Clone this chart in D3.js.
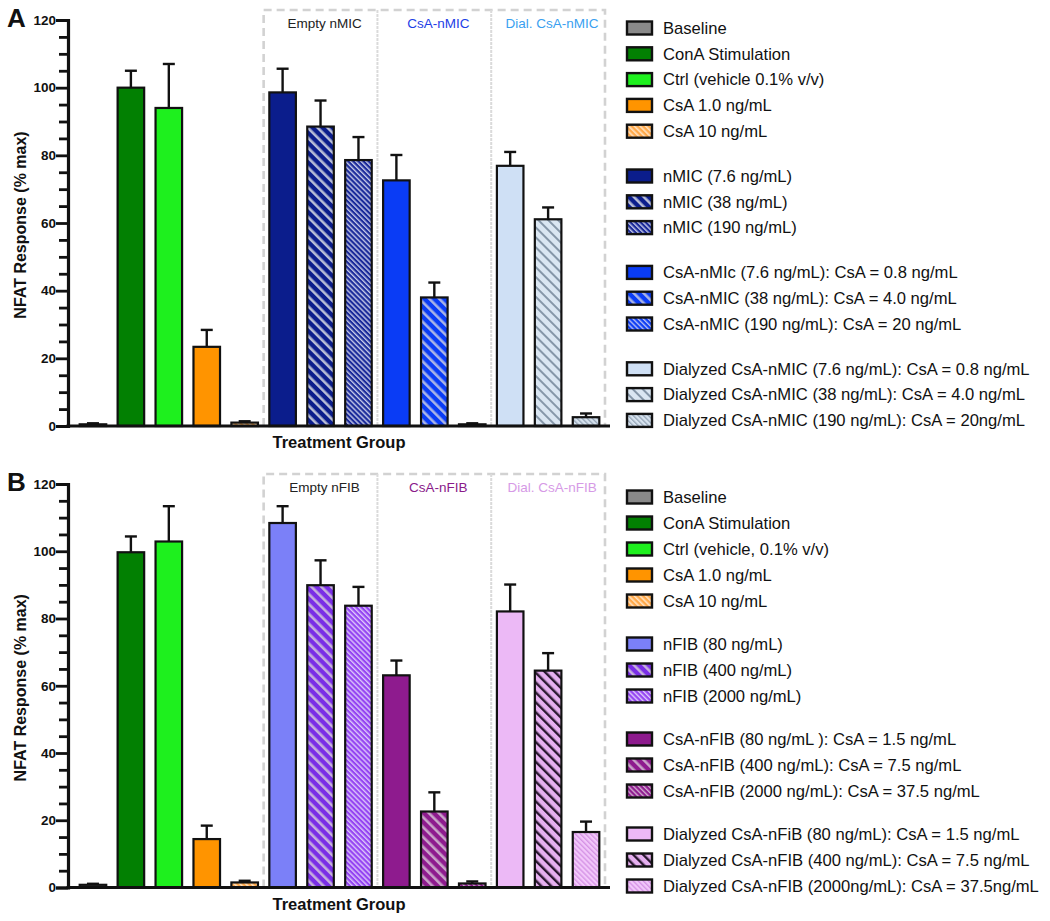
<!DOCTYPE html>
<html>
<head>
<meta charset="utf-8">
<script src="https://cdn.jsdelivr.net/npm/d3@7"></script>
<style>
  body { margin: 0; background: #fff; }
  text { font-family: "Liberation Sans", Arial, Helvetica, sans-serif; }
</style>
</head>
<body>
<div id="chart"></div>
<script>
// ---- data ----
var catsA = ["Baseline", "ConA Stimulation", "Ctrl (vehicle 0.1% v/v)", "CsA 1.0 ng/mL", "CsA 10 ng/mL",
  "nMIC (7.6 ng/mL)", "nMIC (38 ng/mL)", "nMIC (190 ng/mL)",
  "CsA-nMIc (7.6 ng/mL): CsA = 0.8 ng/mL", "CsA-nMIC (38 ng/mL): CsA = 4.0 ng/mL", "CsA-nMIC (190 ng/mL): CsA = 20 ng/mL",
  "Dialyzed CsA-nMIC (7.6 ng/mL): CsA = 0.8 ng/mL", "Dialyzed CsA-nMIC (38 ng/mL): CsA = 4.0 ng/mL", "Dialyzed CsA-nMIC (190 ng/mL): CsA = 20ng/mL"];
var valsA = [0.5, 100, 94, 23.4, 1.0, 98.6, 88.5, 78.6, 72.6, 38.0, 0.5, 76.9, 61.1, 2.6];
var errA  = [0.3, 5.0, 13.0, 5.0, 0.4, 7.0, 7.7, 6.8, 7.5, 4.4, 0.3, 4.1, 3.5, 1.1];

var catsB = ["Baseline", "ConA Stimulation", "Ctrl (vehicle, 0.1% v/v)", "CsA 1.0 ng/mL", "CsA 10 ng/mL",
  "nFIB (80 ng/mL)", "nFIB (400 ng/mL)", "nFIB (2000 ng/mL)",
  "CsA-nFIB (80 ng/mL ): CsA = 1.5 ng/mL", "CsA-nFIB (400 ng/mL): CsA = 7.5 ng/mL", "CsA-nFIB (2000 ng/mL): CsA = 37.5 ng/mL",
  "Dialyzed CsA-nFiB (80 ng/mL): CsA = 1.5 ng/mL", "Dialyzed CsA-nFIB (400 ng/mL): CsA = 7.5 ng/mL", "Dialyzed CsA-nFIB (2000ng/mL): CsA = 37.5ng/mL"];
var valsB = [0.8, 99.7, 102.9, 14.4, 1.5, 108.4, 89.9, 83.8, 63.1, 22.6, 1.2, 82.1, 64.5, 16.5];
var errB  = [0.3, 4.7, 10.5, 4.0, 0.5, 5.0, 7.4, 5.6, 4.4, 5.7, 0.6, 8.0, 5.2, 3.1];

var groupsA = ["Empty nMIC", "CsA-nMIC", "Dial. CsA-nMIC"];
var groupsB = ["Empty nFIB", "CsA-nFIB", "Dial. CsA-nFIB"];
var legendGroups = [5, 3, 3, 3];
var yTicks = [0, 20, 40, 60, 80, 100, 120];

// ---- styles ----
// plain colour or hatch: [base, stripe, period, stripeWidth]
var fillsA = ["#8a8a8a", "#028002", "#1ef01e", "#ff9400", ["#ffa94a", "#ffe2c2", 4, 1.6],
  "#0b1d8c", ["#0b1d8c", "#b8bdd6", 7, 2.6], ["#1a2a9a", "#c4c8e8", 3.6, 1.4],
  "#0a3cf5", ["#0a3cf5", "#aab4e6", 7, 2.6], ["#0a3cf5", "#b4bcf0", 3.6, 1.4],
  "#cfe0f5", ["#dae6f2", "#8596a8", 7, 2.0], ["#d6e2ee", "#8e9eb0", 3.6, 1.2]];
var fillsB = ["#8a8a8a", "#028002", "#1ef01e", "#ff9400", ["#ffa94a", "#ffe2c2", 4, 1.6],
  "#7b80f8", ["#7a2ee6", "#c6b0dc", 7, 2.6], ["#9444f2", "#dcc6fa", 3.6, 1.4],
  "#8e1b8e", ["#8e1b8e", "#c8a4c8", 7, 2.6], ["#8e1b8e", "#cfa8cf", 3.6, 1.4],
  "#ecb9f6", ["#e6b0f0", "#2a1830", 7, 2.4], ["#f2c8fa", "#d694e6", 3.6, 1.4]];
var groupColorsA = ["#222", "#1d3ee6", "#3a9ff0"];
var groupColorsB = ["#222", "#8a1a8a", "#d69ae6"];

var svg = d3.select("#chart").append("svg")
  .attr("width", 1050)
  .attr("height", 921);
var defs = svg.append("defs");

function fillFor(prefix, f, i) {
  if (typeof f === "string") return f;
  var id = prefix + "hatch" + i;
  var p = defs.append("pattern")
    .attr("id", id)
    .attr("patternUnits", "userSpaceOnUse")
    .attr("width", f[2])
    .attr("height", f[2])
    .attr("patternTransform", "rotate(-45)");
  p.append("rect").attr("width", f[2]).attr("height", f[2]).attr("fill", f[0]);
  p.append("rect").attr("x", 0).attr("y", 0).attr("width", f[3]).attr("height", f[2]).attr("fill", f[1]);
  return "url(#" + id + ")";
}

function drawPanel(opt) {
  var fills = opt.fills.map(function(f, i) { return fillFor(opt.letter, f, i); });
  var g = svg.append("g");

  var x = d3.scaleBand().domain(opt.cats).range([74, 605]).paddingInner(0.3).paddingOuter(0.15);
  var y = d3.scaleLinear().domain([0, 120]).range([opt.y0, opt.y1]);
  var step = x.step(), bw = x.bandwidth(), gap = step - bw;

  // dashed group box
  var left = x(opt.cats[5]) - gap / 2;
  var right = x(opt.cats[13]) + bw + gap / 2;
  var top = opt.y1 - 10;
  g.append("path")
    .attr("d", "M" + left + "," + opt.y0 + "V" + top + "H" + right + "V" + opt.y0)
    .attr("fill", "none").attr("stroke", "#d2d2d2").attr("stroke-width", 2.6)
    .attr("stroke-dasharray", "8,5");
  [8, 11].forEach(function(k) {
    var xx = x(opt.cats[k]) - gap / 2;
    g.append("line").attr("x1", xx).attr("x2", xx).attr("y1", top).attr("y2", opt.y0)
      .attr("stroke", "#dadada").attr("stroke-width", 2).attr("stroke-dasharray", "3,1");
  });
  var bounds = [left, x(opt.cats[8]) - gap / 2, x(opt.cats[11]) - gap / 2, right];
  opt.groups.forEach(function(name, k) {
    g.append("text")
      .attr("x", (bounds[k] + bounds[k + 1]) / 2 + 4)
      .attr("y", top + 18)
      .attr("text-anchor", "middle")
      .attr("font-size", 13.5)
      .attr("fill", opt.groupColors[k])
      .text(name);
  });

  // bars
  g.selectAll(".bar").data(opt.vals).enter().append("rect")
    .attr("x", function(d, i) { return x(opt.cats[i]); })
    .attr("y", function(d) { return y(d); })
    .attr("width", bw)
    .attr("height", function(d) { return y(0) - y(d); })
    .attr("fill", function(d, i) { return fills[i]; })
    .attr("stroke", "#111").attr("stroke-width", 2.2);

  // error bars (upper only)
  var eb = g.selectAll(".err").data(opt.vals).enter().append("g");
  eb.append("line")
    .attr("x1", function(d, i) { return x(opt.cats[i]) + bw / 2; })
    .attr("x2", function(d, i) { return x(opt.cats[i]) + bw / 2; })
    .attr("y1", function(d) { return y(d); })
    .attr("y2", function(d, i) { return y(d + opt.err[i]); })
    .attr("stroke", "#111").attr("stroke-width", 2.4);
  eb.append("line")
    .attr("x1", function(d, i) { return x(opt.cats[i]) + bw / 2 - 6; })
    .attr("x2", function(d, i) { return x(opt.cats[i]) + bw / 2 + 6; })
    .attr("y1", function(d, i) { return y(d + opt.err[i]); })
    .attr("y2", function(d, i) { return y(d + opt.err[i]); })
    .attr("stroke", "#111").attr("stroke-width", 2.4);

  // y axis
  var ax = g.append("g").attr("transform", "translate(68,0)")
    .call(d3.axisLeft(y).tickValues(d3.range(0, 121, 5)).tickSizeOuter(0).tickSize(12)
      .tickFormat(function(d) { return yTicks.indexOf(d) >= 0 ? d : ""; }));
  ax.select(".domain").attr("stroke", "#111").attr("stroke-width", 3.2);
  ax.selectAll(".tick line").attr("stroke", "#111").attr("stroke-width", 2.8)
    .attr("x2", function(d) { return yTicks.indexOf(d) >= 0 ? -12 : -9; });
  ax.selectAll(".tick text").attr("font-size", 13.5).attr("font-weight", "bold")
    .attr("fill", "#111").attr("x", -12).attr("font-family", "'Liberation Sans', Arial, sans-serif");

  // x axis line
  g.append("line").attr("x1", 66.5).attr("x2", 610).attr("y1", opt.y0).attr("y2", opt.y0)
    .attr("stroke", "#111").attr("stroke-width", 3.2);

  g.append("text")
    .attr("x", 339).attr("y", opt.y0 + 22)
    .attr("text-anchor", "middle").attr("font-size", 16.5).attr("font-weight", "bold")
    .attr("fill", "#111").text("Treatment Group");

  g.append("text")
    .attr("transform", "translate(26," + ((opt.y0 + opt.y1) / 2 + 2) + ") rotate(-90)")
    .attr("text-anchor", "middle").attr("font-size", 16).attr("font-weight", "bold")
    .attr("fill", "#111").text("NFAT Response (% max)");

  g.append("text")
    .attr("x", 7).attr("y", opt.y1 + 7)
    .attr("font-size", 26).attr("font-weight", "bold").attr("fill", "#111")
    .text(opt.letter);

  // legend
  var rowY = [], yy = opt.legTop;
  legendGroups.forEach(function(n) {
    for (var k = 0; k < n; k++) { rowY.push(yy); yy += opt.legStep; }
    yy += opt.legGap;
  });
  var lg = g.selectAll(".leg").data(opt.cats).enter().append("g")
    .attr("transform", function(d, i) { return "translate(627," + rowY[i] + ")"; });
  lg.append("rect").attr("x", 0).attr("y", -6.5).attr("width", 25).attr("height", 13)
    .attr("fill", function(d, i) { return fills[i]; })
    .attr("stroke", "#111").attr("stroke-width", 2.4);
  lg.append("text").attr("x", 36).attr("y", 5.8)
    .attr("font-size", 16.6).attr("fill", "#111")
    .text(function(d) { return d; });
}

drawPanel({ letter: "A", cats: catsA, vals: valsA, err: errA, fills: fillsA,
  groups: groupsA, groupColors: groupColorsA, y0: 426, y1: 20,
  legTop: 28, legStep: 25.8, legGap: 19 });
drawPanel({ letter: "B", cats: catsB, vals: valsB, err: errB, fills: fillsB,
  groups: groupsB, groupColors: groupColorsB, y0: 887.5, y1: 484,
  legTop: 497, legStep: 26, legGap: 17 });
</script>
</body>
</html>
